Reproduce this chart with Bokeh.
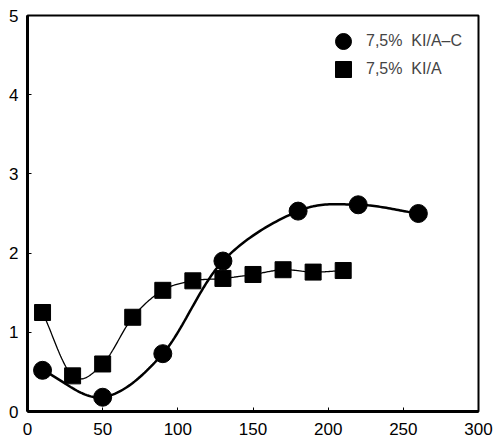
import numpy as np
from bokeh.plotting import figure
from bokeh.models import Range1d, FixedTicker, Legend, LegendItem
from bokeh.embed import file_html
from bokeh.resources import INLINE

# Data
kiac_x = [10, 50, 90, 130, 180, 220, 260]
kiac_y = [0.52, 0.18, 0.73, 1.90, 2.53, 2.61, 2.50]
kia_x = [10, 30, 50, 70, 90, 110, 130, 150, 170, 190, 210]
kia_y = [1.25, 0.45, 0.60, 1.19, 1.53, 1.65, 1.68, 1.73, 1.79, 1.76, 1.78]
x_ticks = [0, 50, 100, 150, 200, 250, 300]
y_ticks = [0, 1, 2, 3, 4, 5]
label_ac = "7,5%  KI/A\u2013C"
label_a = "7,5%  KI/A"

FONT = "Liberation Sans"


def catmull_rom(xs, ys, n=30):
    """Smooth curve through the measured points (drawing aid)."""
    px = np.asarray(xs, float)
    py = np.asarray(ys, float)
    px = np.concatenate([[2 * px[0] - px[1]], px, [2 * px[-1] - px[-2]]])
    py = np.concatenate([[2 * py[0] - py[1]], py, [2 * py[-1] - py[-2]]])
    ox, oy = [], []
    t = np.linspace(0, 1, n, endpoint=False)
    for i in range(1, len(px) - 2):
        for arr, out in ((px, ox), (py, oy)):
            p0, p1, p2, p3 = arr[i - 1], arr[i], arr[i + 1], arr[i + 2]
            out.extend(0.5 * ((2 * p1) + (-p0 + p2) * t
                              + (2 * p0 - 5 * p1 + 4 * p2 - p3) * t ** 2
                              + (-p0 + 3 * p1 - 3 * p2 + p3) * t ** 3))
    ox.append(xs[-1])
    oy.append(ys[-1])
    return ox, oy


p = figure(width=493, height=444, output_backend="svg", toolbar_location=None,
           x_range=Range1d(0, 300), y_range=Range1d(0, 5),
           min_border_left=27, min_border_right=15, min_border_top=15,
           min_border_bottom=33)
p.grid.visible = False
p.background_fill_color = "white"
p.border_fill_color = "white"
p.outline_line_color = "black"
p.outline_line_width = 2

for ax in (p.xaxis[0], p.yaxis[0]):
    ax.axis_line_width = 3
    ax.axis_line_color = "black"
    ax.major_tick_in = 4
    ax.major_tick_out = 0
    ax.major_tick_line_width = 1
    ax.minor_tick_line_color = None
    ax.major_label_text_font = FONT
    ax.major_label_text_font_size = "17px"
    ax.major_label_text_color = "black"
p.xaxis.ticker = FixedTicker(ticks=x_ticks)
p.yaxis.ticker = FixedTicker(ticks=y_ticks)
p.xaxis.major_label_standoff = 11
p.yaxis.major_label_standoff = 9

cx, cy = catmull_rom(kiac_x, kiac_y)
p.line(cx, cy, line_color="black", line_width=2.5)
sx, sy = catmull_rom(kia_x, kia_y)
p.line(sx, sy, line_color="black", line_width=1.3)

r_c = p.scatter(kiac_x, kiac_y, marker="circle", size=18, fill_color="black",
                line_color="black")
r_s = p.scatter(kia_x, kia_y, marker="square", size=16, fill_color="black",
                line_color="black")

for rend, lab, ypos in ((r_c, label_ac, 350), (r_s, label_a, 322)):
    leg = Legend(items=[LegendItem(label=lab, renderers=[rend])],
                 location=(296, ypos), padding=0, margin=0, spacing=0,
                 glyph_width=40, glyph_height=40, label_standoff=3,
                 label_text_font=FONT, label_text_font_size="16px",
                 border_line_alpha=0, background_fill_alpha=0)
    p.add_layout(leg)

open("out.html", "w").write(file_html(p, INLINE))
